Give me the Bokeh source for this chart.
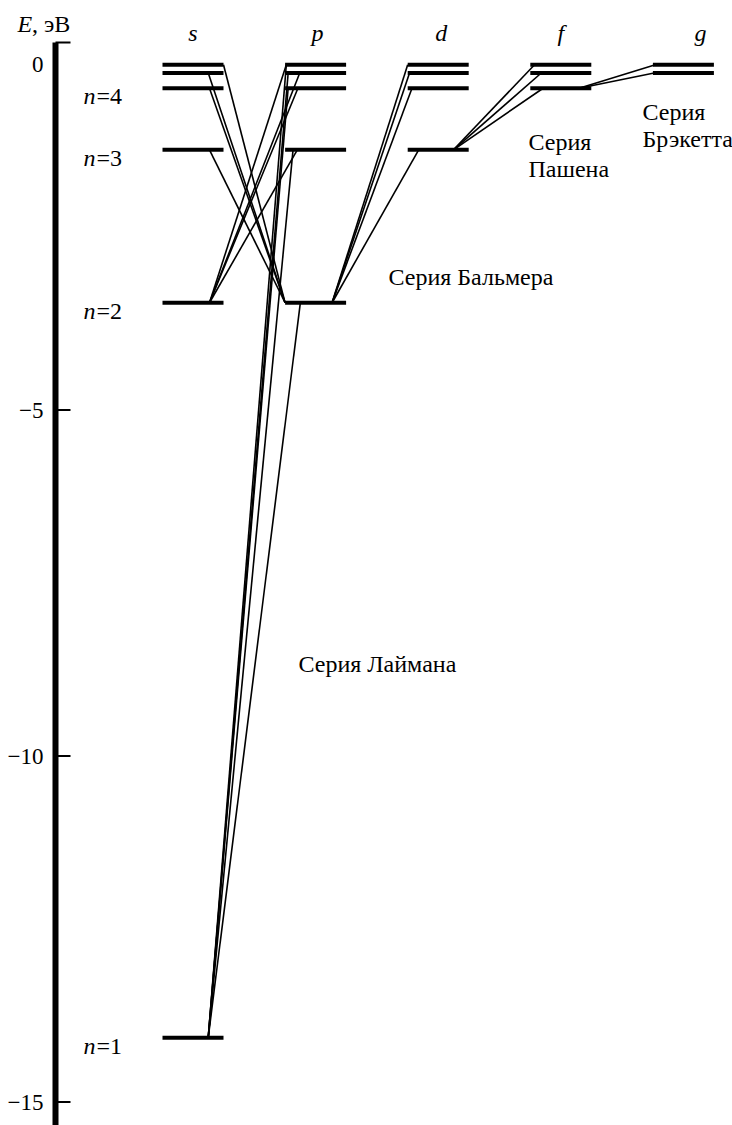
from bokeh.plotting import figure
from bokeh.models import Range1d
from bokeh.core.properties import value
from bokeh.embed import file_html
from bokeh.resources import INLINE

# ---------------- data ----------------
orbital_labels = ["s", "p", "d", "f", "g"]
principal_n = [1, 2, 3, 4, 5, 6]
level_energy_ev = [-14.07, -3.45, -1.24, -0.35, -0.13, -0.01]   # E of level n (eV), as drawn
axis_ticks = [0, -5, -10, -15]
axis_title = ", эВ"
n_label_levels = [1, 2, 3, 4]

# transitions: upper (n, l) -> lower (n, l); l is index into orbital_labels
trans_upper_n = [2, 3, 4, 5, 6,   3, 4, 5, 6,   3, 4, 5, 6,   3, 4, 5, 6,   4, 5, 6,   5, 6]
trans_upper_l = [1, 1, 1, 1, 1,   0, 0, 0, 0,   1, 1, 1, 1,   2, 2, 2, 2,   3, 3, 3,   4, 4]
trans_lower_n = [1, 1, 1, 1, 1,   2, 2, 2, 2,   2, 2, 2, 2,   2, 2, 2, 2,   3, 3, 3,   4, 4]
trans_lower_l = [0, 0, 0, 0, 0,   1, 1, 1, 1,   0, 0, 0, 0,   1, 1, 1, 1,   2, 2, 2,   3, 3]

series_texts = ["Серия Лаймана", "Серия Бальмера", "Серия\nПашена", "Серия\nБрэкетта"]

# ---------------- layout / style ----------------
FIG_W, FIG_H = 732, 1125
PX_PER_EV = 69.2
E0_Y = 63.5
def img_y_to_ev(y):
    return (E0_Y - y) / PX_PER_EV
def px_to_ev(d):
    return d / PX_PER_EV

AXIS_X = 55
TICK_LEN = 15
COL_X0 = 162.0
COL_STEP = 122.6
BAR_W = 61.0
CAP_EV = 0.31
FONT = "Liberation Serif, Times New Roman, Times, DejaVu Serif, serif"
FS = "24px"
FS_TICK = "23px"
LINE_GAP = 27

# where each transition line meets its levels (fraction along bar)
anchor_up = [0.25, 0.13, 0.05, 0.05, 0.02,
             0.77, 0.77, 0.75, 1.0,
             0.20, 0.21, 0.24, 0.02,
             0.18, 0.07, 0.03, 0.0,
             0.21, 0.18, 0.07,
             0.02, 0.04]
anchor_lo = [0.75] * 5 + [0.0] * 4 + [0.77] * 4 + [0.77] * 4 + [0.75] * 3 + [0.80] * 2

y_top = img_y_to_ev(0)
y_bot = img_y_to_ev(FIG_H)

p = figure(width=FIG_W, height=FIG_H,
           x_range=Range1d(0, FIG_W),
           y_range=Range1d(y_bot, y_top),
           output_backend="svg", toolbar_location=None,
           x_axis_location=None, y_axis_location=None,
           min_border=0, outline_line_color=None,
           background_fill_color="white", border_fill_color="white")
p.grid.visible = False

# energy axis (line, ticks, labels)
p.segment(x0=[AXIS_X], y0=[CAP_EV], x1=[AXIS_X], y1=[y_bot - 1], line_width=6,
          line_color="black", line_cap="butt")
tick_vals = [t for t in axis_ticks if t != 0] + [CAP_EV]
p.segment(x0=[AXIS_X] * len(tick_vals), y0=tick_vals, x1=[AXIS_X + TICK_LEN] * len(tick_vals),
          y1=tick_vals, line_width=2, line_color="black", line_cap="butt")
p.text(x=[43] * len(axis_ticks), y=axis_ticks,
       text=[("\u2212" + str(abs(t))) if t < 0 else str(t) for t in axis_ticks],
       text_font=value(FONT), text_font_size=FS_TICK, text_align="right",
       text_baseline="middle", text_color="black")

# axis title
p.text(x=[17], y=[img_y_to_ev(23)], text=["E"], text_font=value(FONT),
       text_font_style="italic", text_font_size=FS, text_align="left",
       text_baseline="middle", text_color="black")
p.text(x=[31.5], y=[img_y_to_ev(23)], text=[axis_title], text_font=value(FONT),
       text_font_size=FS, text_align="left", text_baseline="middle", text_color="black")

# levels
lx0, lx1, ly = [], [], []
for l in range(len(orbital_labels)):
    for n in principal_n:
        if n >= l + 1:
            x0 = COL_X0 + l * COL_STEP
            lx0.append(x0)
            lx1.append(x0 + BAR_W)
            ly.append(level_energy_ev[n - 1])
p.segment(x0=lx0, y0=ly, x1=lx1, y1=ly, line_width=4, line_color="black", line_cap="butt")

# transitions
tx0, ty0, tx1, ty1 = [], [], [], []
for i in range(len(trans_upper_n)):
    tx0.append(COL_X0 + trans_upper_l[i] * COL_STEP + anchor_up[i] * BAR_W)
    ty0.append(level_energy_ev[trans_upper_n[i] - 1])
    tx1.append(COL_X0 + trans_lower_l[i] * COL_STEP + anchor_lo[i] * BAR_W)
    ty1.append(level_energy_ev[trans_lower_n[i] - 1])
p.segment(x0=tx0, y0=ty0, x1=tx1, y1=ty1, line_width=1.6, line_color="black")

# column labels
col_off = [0, 2, 3, 0, 17]
p.text(x=[COL_X0 + l * COL_STEP + BAR_W / 2 + col_off[l] for l in range(len(orbital_labels))],
       y=[img_y_to_ev(32)] * len(orbital_labels), text=orbital_labels,
       text_font=value(FONT), text_font_style="italic", text_font_size=FS,
       text_align="center", text_baseline="middle", text_color="black")

# n labels
ny = [level_energy_ev[n - 1] - px_to_ev(8) for n in n_label_levels]
p.text(x=[83] * len(ny), y=ny, text=["n"] * len(ny),
       text_font=value(FONT), text_font_style="italic", text_font_size=FS,
       text_align="left", text_baseline="middle", text_color="black")
p.text(x=[96] * len(ny), y=ny, text=["=" + str(n) for n in n_label_levels],
       text_font=value(FONT), text_font_size=FS,
       text_align="left", text_baseline="middle", text_color="black")

# series labels (first-line centre positions)
series_x = [298, 388, 528, 642]
series_y_img = [663, 276, 141, 111]
sx, sy, st = [], [], []
for i, t in enumerate(series_texts):
    for j, line in enumerate(t.split("\n")):
        sx.append(series_x[i])
        sy.append(img_y_to_ev(series_y_img[i] + j * LINE_GAP))
        st.append(line)
p.text(x=sx, y=sy, text=st, text_font=value(FONT), text_font_size=FS,
       text_align="left", text_baseline="middle", text_color="black")

open("out.html", "w").write(file_html(p, INLINE))
